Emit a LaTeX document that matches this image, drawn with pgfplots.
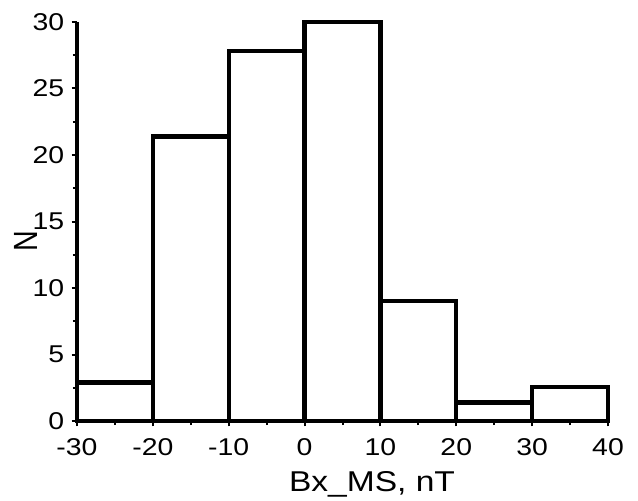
\documentclass[border=0pt]{standalone}
\usepackage{fontspec}
\setmainfont{Liberation Sans}
\usepackage{pgfplots}
\pgfplotsset{compat=1.18}
\begin{document}
\begin{tikzpicture}
\useasboundingbox (-57.75pt,-59.25pt) rectangle (420.75pt,315.75pt);
\begin{axis}[
  at={(0pt,0pt)}, anchor=south west,
  scale only axis,
  width=398.25pt, height=299.25pt,
  xmin=-30, xmax=40, ymin=0, ymax=30,
  axis x line=bottom, axis y line=left,
  axis line style={-, line width=2.4pt},
  xtick={-30,-20,...,40}, ytick={0,5,...,30},
  minor x tick num=1, minor y tick num=1,
  tick align=outside,
  major tick length=4pt, minor tick length=3pt,
  every tick/.style={black, line width=1.5pt},
  /pgf/number format/assume math mode=true,
  tick label style={font=\fontsize{18.2}{20}\selectfont},
  xticklabel={\scalebox{1.17}[1]{\pgfmathprintnumber{\tick}}},
  yticklabel={\scalebox{1.17}[1]{\pgfmathprintnumber{\tick}}},
  xticklabel style={anchor=base, yshift=-22pt},
  yticklabel style={xshift=-2pt},
  label style={font=\fontsize{21.5}{24}\selectfont},
  xlabel={\scalebox{1.17}[1]{Bx\_MS, nT}}, ylabel={\scalebox{1}[1.17]{N}},
  xlabel style={at={(axis description cs:0.5556,-0.177)}, anchor=base},
  ylabel style={at={(axis description cs:-0.096,0.45)}, anchor=center},
  clip=false,
]
\addplot[ybar interval, draw=black, fill=white, line width=3.2pt]
  coordinates {(-30,2.9) (-20,21.4) (-10,27.8) (0,30) (10,9) (20,1.4) (30,2.55) (40,2.55)};
\end{axis}
\end{tikzpicture}
\end{document}
